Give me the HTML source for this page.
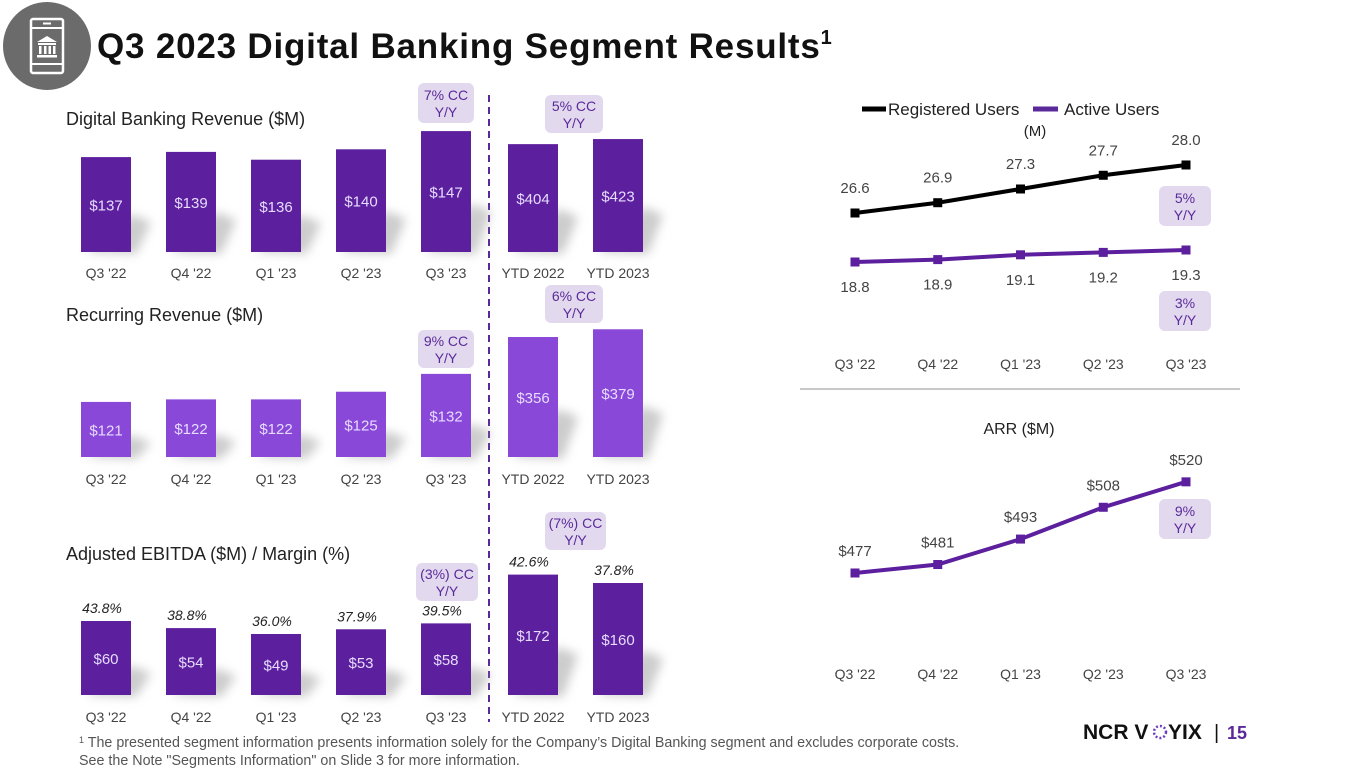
<!DOCTYPE html>
<html><head><meta charset="utf-8">
<style>
html,body{margin:0;padding:0;background:#fff;}
body{width:1365px;height:768px;overflow:hidden;font-family:"Liberation Sans",sans-serif;}
svg text{font-family:"Liberation Sans",sans-serif;}
</style></head>
<body>
<svg id="s" width="1365" height="768" viewBox="0 0 1365 768" xmlns="http://www.w3.org/2000/svg">
<defs>
<filter id="blur" x="-50%" y="-50%" width="200%" height="200%"><feGaussianBlur stdDeviation="5"/></filter>
</defs>
<g>
<circle cx="47" cy="46" r="44" fill="#6b6b6b"/>
<rect x="31" y="19" width="32" height="54" rx="2" fill="none" stroke="#fff" stroke-width="2.5"/>
<line x1="31" y1="28" x2="63" y2="28" stroke="#fff" stroke-width="2"/>
<line x1="31" y1="64" x2="63" y2="64" stroke="#fff" stroke-width="2"/>
<line x1="43" y1="23.5" x2="51" y2="23.5" stroke="#fff" stroke-width="2"/>
<polygon points="37,42 47,36 57,42" fill="#fff"/>
<rect x="38" y="43" width="18" height="2" fill="#fff"/>
<rect x="39" y="46" width="2.5" height="8" fill="#fff"/><rect x="44" y="46" width="2.5" height="8" fill="#fff"/><rect x="48.5" y="46" width="2.5" height="8" fill="#fff"/><rect x="53" y="46" width="2.5" height="8" fill="#fff"/>
<rect x="37" y="55" width="20" height="2.5" fill="#fff"/>
</g>
<text x="97" y="58" font-size="35" font-weight="bold" letter-spacing="0.8" fill="#111">Q3 2023 Digital Banking Segment Results<tspan font-size="20" dy="-14">1</tspan></text>

<text x="66" y="125" font-size="18" fill="#222">Digital Banking Revenue ($M)</text>
<text x="66" y="321" font-size="18" fill="#222">Recurring Revenue ($M)</text>
<text x="66" y="560" font-size="18" fill="#222">Adjusted EBITDA ($M) / Margin (%)</text>

<line x1="489" y1="95" x2="489" y2="722" stroke="#5b2a9a" stroke-width="2" stroke-dasharray="7,5"/>

<g id="bars"></g>
<g id="lines"></g>

<line x1="800" y1="389" x2="1240" y2="389" stroke="#c8c8c8" stroke-width="2"/>

<g>
<g><line x1="862" y1="109" x2="886" y2="109" stroke="#000" stroke-width="5"/><text x="888" y="115" font-size="17" fill="#222">Registered Users</text></g>
<g><line x1="1033" y1="109" x2="1058" y2="109" stroke="#5b2a9a" stroke-width="5"/><text x="1064" y="115" font-size="17" fill="#222">Active Users</text></g>
</g>
<text x="1035" y="136" font-size="15" fill="#222" text-anchor="middle">(M)</text>
<text x="1019" y="434" font-size="16" fill="#222" text-anchor="middle">ARR ($M)</text>

<g>
<text x="1083" y="739" font-size="21" font-weight="bold" fill="#111">NCR V</text>
<circle cx="1160" cy="732" r="6" fill="none" stroke="#6b3fc0" stroke-width="2.5" stroke-dasharray="2,2"/>
<text x="1168" y="739" font-size="21" font-weight="bold" fill="#111">YIX</text>
<text x="1214" y="739" font-size="20" fill="#111">|</text>
<text x="1227" y="739" font-size="18" font-weight="bold" fill="#5b2a9a">15</text>
</g>
<text x="79" y="747" font-size="14.3" fill="#555"><tspan font-size="9" dy="-4">1</tspan><tspan dy="4"> The presented segment information presents information solely for the Company’s Digital Banking segment and excludes corporate costs.</tspan></text>
<text x="79" y="765" font-size="14.3" fill="#555">See the Note "Segments Information" on Slide 3 for more information.</text>
</svg>
<script>
const qCats = ["Q3 '22","Q4 '22","Q1 '23","Q2 '23","Q3 '23"];
const ytdCats = ["YTD 2022","YTD 2023"];
const revQ = [137,139,136,140,147];
const revYtd = [404,423];
const recQ = [121,122,122,125,132];
const recYtd = [356,379];
const ebitdaQ = [60,54,49,53,58];
const ebitdaYtd = [172,160];
const marginQ = ["43.8%","38.8%","36.0%","37.9%","39.5%"];
const marginYtd = ["42.6%","37.8%"];
const regUsers = [26.6,26.9,27.3,27.7,28.0];
const actUsers = [18.8,18.9,19.1,19.2,19.3];
const arr = [477,481,493,508,520];

const NS="http://www.w3.org/2000/svg";
function mk(tag,attrs,parent){const e=document.createElementNS(NS,tag);for(const k in attrs)e.setAttribute(k,attrs[k]);parent.appendChild(e);return e;}
const barsG=document.getElementById('bars');
const linesG=document.getElementById('lines');
const xBar=i=>106+i*85;
const xYtd=i=>533+i*85;

function badge(x,y,w,h,l1,l2,name){
  const g=mk('g',{},barsG);
  
  
  mk('rect',{x:x,y:y,width:w,height:h,rx:6,fill:'#e2d9ef'},g);
  const t1=mk('text',{x:x+w/2,y:y+h/2-3,'font-size':14,fill:'#5b2a9a','text-anchor':'middle'},g);t1.textContent=l1;
  const t2=mk('text',{x:x+w/2,y:y+h/2+14,'font-size':14,fill:'#5b2a9a','text-anchor':'middle'},g);t2.textContent=l2;
}

function barChart(name,base,vals,cats,xf,yf,color,labFrac,margins,catY){
  vals.forEach((v,i)=>{
    const cx=xf(i),top=yf(v),h=base-top;
    const sh=mk('polygon',{points:`${cx-20},${base} ${cx+25},${base-h*0.4} ${cx+45},${base-h*0.4+8} ${cx+30},${base+2}`,fill:'#9a9a9a',opacity:0.5,filter:'url(#blur)'},barsG);
    
    
    const r=mk('rect',{x:cx-25,y:top,width:50,height:h,fill:color},barsG);
    
    
    const t=mk('text',{x:cx,y:top+h*labFrac+6,'font-size':15,fill:'#e6dcff','text-anchor':'middle'},barsG);
    t.textContent='$'+v;
    
    
    const c=mk('text',{x:cx,y:catY,'font-size':14,fill:'#444','text-anchor':'middle'},barsG);
    c.textContent=cats[i];
    
    
    if(margins){
      const m=mk('text',{x:cx-4,y:top-8,'font-size':14,'font-style':'italic',fill:'#222','text-anchor':'middle'},barsG);
      m.textContent=margins[i];
      
      
    }
  });
}
const purple='#5c1f9e', light='#8a48d8';
barChart('revenue',252,revQ,qCats,xBar,v=>252-(v-100.5)*2.6,purple,0.5,null,278);
barChart('revenue-ytd',252,revYtd,ytdCats,xYtd,v=>252-v*0.267,purple,0.5,null,278);
barChart('recurring',457,recQ,qCats,xBar,v=>457-(v-99.4)*2.55,light,0.5,null,484);
barChart('recurring-ytd',457,recYtd,ytdCats,xYtd,v=>457-v*0.337,light,0.5,null,484);
barChart('ebitda',695,ebitdaQ,qCats,xBar,v=>695-(v+2.7)*1.18,purple,0.5,marginQ,722);
barChart('ebitda-ytd',695,ebitdaYtd,ytdCats,xYtd,v=>695-v*0.70,purple,0.5,marginYtd,722);

badge(418,83,56,40,'7% CC','Y/Y','revenue-badge-q3');
badge(545,95,58,38,'5% CC','Y/Y','revenue-badge-ytd');
badge(418,330,56,38,'9% CC','Y/Y','recurring-badge-q3');
badge(545,285,58,38,'6% CC','Y/Y','recurring-badge-ytd');
badge(416,563,62,38,'(3%) CC','Y/Y','ebitda-badge-q3');
badge(545,512,61,38,'(7%) CC','Y/Y','ebitda-badge-ytd');
badge(1159,186,52,40,'5%','Y/Y','registered-badge');
badge(1159,291,52,40,'3%','Y/Y','active-badge');
badge(1159,499,52,40,'9%','Y/Y','arr-badge');

const xPt=i=>855+i*82.75;
function line(name,vals,yf,color,fmt,labOff){
  const pts=vals.map((v,i)=>xPt(i)+','+yf(v)).join(' ');
  const pl=mk('polyline',{points:pts,fill:'none',stroke:color,'stroke-width':4},linesG);
  
  
  vals.forEach((v,i)=>{
    const p=mk('rect',{x:xPt(i)-4.5,y:yf(v)-4.5,width:9,height:9,fill:color},linesG);
    
    
    const t=mk('text',{x:xPt(i),y:yf(v)+labOff,'font-size':15,fill:'#444','text-anchor':'middle'},linesG);
    t.textContent=fmt(v);
    
    
  });
}
line('registered-users',regUsers,v=>213-(v-26.6)*34.3,'#000',v=>v.toFixed(1),-20);
line('active-users',actUsers,v=>262-(v-18.8)*24,'#5c1f9e',v=>v.toFixed(1),30);
line('arr',arr,v=>573-(v-477)*2.12,'#5c1f9e',v=>'$'+v,-17);
[369,679].forEach((y,k)=>{
  qCats.forEach((c,i)=>{
    const t=mk('text',{x:xPt(i),y:y,'font-size':14,fill:'#444','text-anchor':'middle'},linesG);
    t.textContent=c;
    
    
  });
});
</script>
</body></html>
